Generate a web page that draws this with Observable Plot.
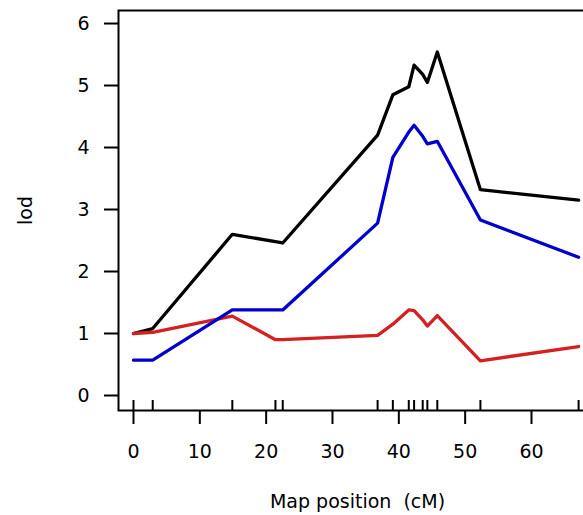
<!DOCTYPE html>
<html><head><meta charset="utf-8">
<script src="https://cdn.jsdelivr.net/npm/d3@7"></script>
<script src="https://cdn.jsdelivr.net/npm/@observablehq/plot@0.6"></script>
<style>html,body{margin:0;padding:0;background:#fff;overflow:hidden}</style>
</head><body><div id="chart"></div>
<script>
// marker positions (cM) and LOD curves
const positions = [0, 2.9, 14.9, 21.4, 22.5, 36.8, 39.1, 41.5, 42.3, 43.6, 44.3, 45.8, 52.3, 67.1];
const lodBlack = [1.0, 1.08, 2.6, 2.48, 2.46, 4.2, 4.85, 4.98, 5.33, 5.18, 5.05, 5.54, 3.32, 3.15];
const lodBlue  = [0.57, 0.57, 1.38, 1.38, 1.38, 2.78, 3.84, 4.25, 4.36, 4.18, 4.06, 4.1, 2.83, 2.23];
const lodRed   = [1.0, 1.02, 1.28, 0.9, 0.9, 0.97, 1.15, 1.38, 1.37, 1.22, 1.12, 1.29, 0.56, 0.79];
const xTicks = [0, 10, 20, 30, 40, 50, 60];
const yTicks = [0, 1, 2, 3, 4, 5, 6];
const xLabel = "Map position  (cM)";
const yLabel = "lod";

const toRows = (vals) => positions.map((p, i) => ({pos: p, lod: vals[i]}));

const plot = Plot.plot({
  width: 583,
  height: 515,
  marginLeft: 118,
  marginTop: 10,
  marginBottom: 105,
  marginRight: -13,
  style: {fontFamily: "'DejaVu Sans', sans-serif", fontSize: "19px", background: "#fff", color: "#000"},
  x: {domain: [-2.26, 69.8]},
  y: {domain: [-0.242, 6.21]},
  marks: [
    Plot.frame({strokeWidth: 2, stroke: "#000"}),
    Plot.axisY({ticks: yTicks, tickFormat: (d) => String(d), tickSize: 14, tickPadding: 15, strokeWidth: 2, fontSize: 19,
      label: yLabel, labelAnchor: "center", labelOffset: 100, labelArrow: false}),
    Plot.axisX({ticks: xTicks, tickFormat: (d) => String(d), tickSize: 14, tickPadding: 20, strokeWidth: 2, fontSize: 19,
      label: xLabel, labelAnchor: "center", labelOffset: 97, labelArrow: false}),
    Plot.tickX(positions, {strokeWidth: 2, stroke: "#000", insetTop: 390}),
    Plot.line(toRows(lodBlack), {x: "pos", y: "lod", stroke: "#000", strokeWidth: 3.3}),
    Plot.line(toRows(lodRed), {x: "pos", y: "lod", stroke: "#d42020", strokeWidth: 3.3}),
    Plot.line(toRows(lodBlue), {x: "pos", y: "lod", stroke: "#0000cc", strokeWidth: 3.3})
  ]
});
document.getElementById("chart").appendChild(plot);
</script>
</body></html>
